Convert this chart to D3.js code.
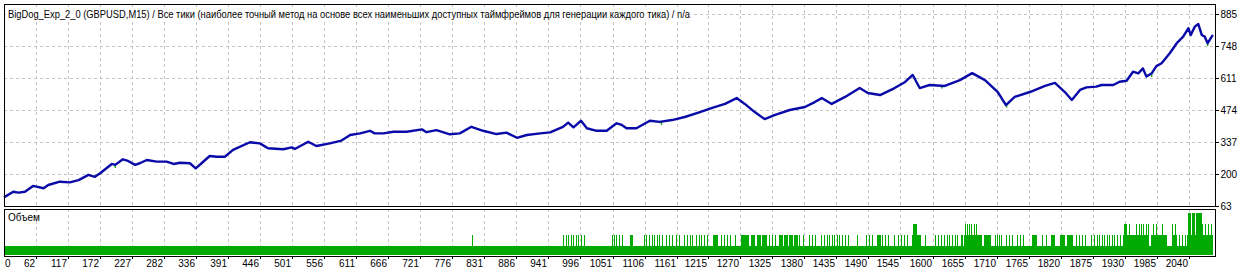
<!DOCTYPE html>
<html><head><meta charset="utf-8">
<script src="https://cdn.jsdelivr.net/npm/d3@7"></script>
<style>
html,body{margin:0;padding:0;background:#fff;}
svg{display:block;}
text{font-family:"Liberation Sans","DejaVu Sans",sans-serif;}
</style></head>
<body><svg id="c" width="1260" height="273"></svg>
<script>
const titleText = "BigDog_Exp_2_0 (GBPUSD,M15) / Все тики (наиболее точный метод на основе всех наименьших доступных таймфреймов для генерации каждого тика) / n/a";
const volumeLabel = "Объем";
const xTickLabels = [0,62,117,172,227,282,336,391,446,501,556,611,666,721,776,831,886,941,996,1051,1106,1161,1215,1270,1325,1380,1435,1490,1545,1600,1655,1710,1765,1820,1875,1930,1985,2040];
const yTickLabels = [63,200,337,474,611,748,885];

const trades = [
  7,23,32,43,57,75,83,103,120,135,
  152,163,172,192,198,211,220,232,240,252,
  269,286,298,309,326,336,346,360,372,386,
  400,429,446,460,486,501,506,529,543,566,
  586,601,618,635,643,658,675,698,724,732,
  749,772,789,809,829,852,869,887,904,927,
  944,966,975,984,997,1007,1024,1041,1058,1067,
  1075,1092,1115,1132,1153,1175,1201,1222,1244,1264,
  1278,1295,1312,1330,1355,1381,1398,1410,1427,1450,
  1475,1489,1510,1535,1553,1566,1578,1595,1621,1647,
  1668,1690,1712,1726,1741,1767,1793,1810,1827,1839,
  1853,1864,1881,1890,1910,1921,1933,1944,1953,1961,
  1967,1976,1984,1993,2007,2019,2030,2039,2043,2050,
  2056,2062,2067,2072,2079,2081];
const balance = [
  100,124,120,124,149,139,153,167,164,174,
  196,188,203,243,239,263,256,239,246,260,
  253,253,243,248,246,224,246,277,274,274,
  303,336,331,310,306,314,307,338,320,331,
  343,367,374,385,374,374,381,381,391,379,
  388,370,374,402,385,371,377,355,367,374,
  378,402,420,400,428,396,385,385,417,410,
  396,396,428,423,431,444,465,483,500,525,
  500,465,435,453,474,487,508,525,500,530,
  568,547,538,568,594,624,568,581,577,602,
  632,602,551,495,530,551,577,590,551,517,
  560,571,574,581,581,595,599,638,631,652,
  617,631,662,674,717,760,788,824,795,831,
  842,795,788,760,788,795];

// equity dips below balance: [trade, equity]
const equityDipTrades = [198,1135,1616,1727,1976,2039,2072];
const equityDipValues = [226,410,566,484,615,812,748];

const firstTrade = 7, lastTrade = 2081;
const baseVolume = 1;
const vol2Bars = [[811,811],
 [967,967],[972,972],[976,976],[981,981],[984,984],[990,990],[993,993],[998,998],[1003,1003],
 [1051,1051],[1055,1055],[1058,1058],[1063,1063],[1068,1068],[1082,1086],
 [1106,1106],[1110,1110],[1115,1115],[1120,1120],[1123,1123],[1128,1128],[1132,1132],[1137,1137],
 [1144,1144],[1149,1149],[1154,1154],[1161,1161],[1166,1166],
 [1175,1175],[1180,1180],[1185,1185],[1188,1188],
 [1195,1195],[1200,1200],[1204,1204],[1209,1209],[1214,1214],[1224,1231],
 [1238,1238],[1243,1243],[1249,1249],[1254,1254],[1262,1262],
 [1273,1286],[1290,1295],[1300,1305],[1308,1315],
 [1321,1321],[1326,1326],[1331,1331],
 [1338,1343],[1346,1352],[1355,1360],[1363,1369],[1372,1372],[1379,1379],
 [1389,1389],[1394,1394],[1399,1399],[1410,1410],[1415,1415],
 [1420,1420],[1423,1423],[1429,1429],[1432,1432],[1437,1437],[1441,1441],[1446,1446],[1451,1451],[1456,1456],
 [1471,1471],[1487,1487],[1492,1492],[1497,1497],
 [1506,1512],[1514,1514],[1520,1520],[1525,1525],
 [1535,1535],[1542,1542],[1547,1547],[1552,1552],[1557,1557],
 [1566,1581],[1588,1588],
 [1605,1605],[1610,1610],[1616,1616],[1621,1621],[1626,1626],[1629,1629],[1634,1634],[1640,1640],[1643,1643],[1649,1649],[1652,1652],
 [1655,1684],[1689,1700],[1708,1708],[1712,1712],[1715,1715],[1718,1718],
 [1727,1727],[1732,1732],[1737,1737],[1746,1746],[1751,1751],[1756,1756],
 [1772,1780],[1789,1789],[1796,1796],[1804,1809],[1820,1828],[1831,1840],
 [1847,1847],[1852,1852],[1858,1858],[1863,1863],[1873,1873],
 [1878,1878],[1883,1883],[1887,1887],[1892,1892],[1895,1895],[1900,1900],[1904,1904],[1909,1909],[1912,1912],[1917,1917],[1922,1922],
 [1928,1970],[1976,2002],[2012,2019],[2024,2024],[2029,2029],[2034,2034],[2038,2081]];
const vol3Bars = [[1568,1573],
 [1657,1657],[1660,1660],[1664,1664],[1667,1667],[1672,1672],[1676,1676],
 [1929,1933],[1938,1938],[1950,1950],[1955,1955],[1959,1959],[1962,1962],[1967,1967],[1970,1970],
 [1979,1979],[1984,1984],[1995,1995],[2012,2012],[2017,2017],
 [2063,2063],[2069,2069],[2074,2074],[2079,2079]];
const vol4Bars = [[2039,2043],[2046,2050],[2053,2062]];

// ---- layout ----
const L = 4, R = 1215, T = 4, B = 206;
const VT = 209, VB = 256;
const svg = d3.select("#c");
const x = d3.scaleLinear().domain([62, 2040]).range([36, 1189]);
const y = d3.scaleLinear().domain([63, 885]).range([206, 14]);
const yv = d3.scaleLinear().domain([0, 4]).range([257, 213]);
const gridColor = "#c4c4c4";

// grid main
const gx = xTickLabels.filter(v => x(v) > L + 2);
svg.append("g").selectAll("line").data(gx).join("line")
  .attr("x1", d => Math.round(x(d)) + 0.5).attr("x2", d => Math.round(x(d)) + 0.5)
  .attr("y1", T).attr("y2", B).attr("stroke", gridColor).attr("stroke-dasharray", "3,3");
svg.append("g").selectAll("line").data(yTickLabels.filter(v => y(v) < B - 2)).join("line")
  .attr("x1", L).attr("x2", R).attr("y1", d => Math.round(y(d)) + 0.5).attr("y2", d => Math.round(y(d)) + 0.5)
  .attr("stroke", gridColor).attr("stroke-dasharray", "3,3");
// grid volume
svg.append("g").selectAll("line").data(gx).join("line")
  .attr("x1", d => Math.round(x(d)) + 0.5).attr("x2", d => Math.round(x(d)) + 0.5)
  .attr("y1", VT).attr("y2", VB).attr("stroke", gridColor).attr("stroke-dasharray", "3,3");

// title with white background
svg.append("rect").attr("x", 6).attr("y", 8).attr("width", 686).attr("height", 13).attr("fill", "#fff");
svg.append("text").attr("x", 8).attr("y", 18).attr("font-size", 10.5).attr("fill", "#000")
  .text(titleText).attr("textLength", 682).attr("lengthAdjust", "spacingAndGlyphs");

// equity dips (green)
const interp = d3.scaleLinear().domain(trades).range(balance);
svg.append("g").selectAll("line").data(equityDipTrades).join("line")
  .attr("x1", d => x(d)).attr("x2", d => x(d))
  .attr("y1", d => y(interp(d))).attr("y2", (d, i) => y(equityDipValues[i]))
  .attr("stroke", "#18b018").attr("stroke-width", 1.5);

// balance line
const line = d3.line().x((d, i) => x(trades[i])).y(d => y(d));
svg.append("path").datum(balance).attr("d", line).attr("fill", "none")
  .attr("stroke", "#0a0aa8").attr("stroke-width", 2.4).attr("stroke-linejoin", "round");

// volume bars
const vg = svg.append("g").attr("shape-rendering", "crispEdges");
const vbot = VB - 1;
vg.append("rect").attr("x", x(firstTrade)).attr("width", x(lastTrade) - x(firstTrade))
  .attr("y", yv(baseVolume)).attr("height", vbot - yv(baseVolume)).attr("fill", "#00aa00");
function bars(data, level) {
  vg.append("g").selectAll("rect").data(data).join("rect")
    .attr("x", d => Math.floor(x(d[0])))
    .attr("width", d => Math.max(1, Math.round(x(d[1]) - x(d[0]) + 0.6)))
    .attr("y", yv(level)).attr("height", vbot - yv(level)).attr("fill", "#00aa00");
}
bars(vol2Bars, 2); bars(vol3Bars, 3); bars(vol4Bars, 4);

// panel borders
const bg = svg.append("g").attr("shape-rendering", "crispEdges").attr("fill", "none").attr("stroke", "#000");
bg.append("rect").attr("x", L + 0.5).attr("y", T + 0.5).attr("width", R - L).attr("height", B - T);
bg.append("rect").attr("x", L + 0.5).attr("y", VT + 0.5).attr("width", R - L).attr("height", VB - VT);

// right axis
const ya = svg.append("g").attr("transform", `translate(${R + 0.5},0)`)
  .call(d3.axisRight(y).tickValues(yTickLabels).tickSize(3).tickPadding(2).tickFormat(d3.format("d")));
ya.select(".domain").remove();
ya.selectAll("text").attr("font-size", 10).attr("fill", "#000").attr("font-family", "Liberation Sans, DejaVu Sans, sans-serif");
ya.selectAll("line").attr("stroke", "#000").attr("shape-rendering", "crispEdges");

// bottom axis
const xa = svg.append("g").attr("font-size", 10);
xa.selectAll("line").data(gx).join("line")
  .attr("x1", d => Math.round(x(d)) + 0.5).attr("x2", d => Math.round(x(d)) + 0.5)
  .attr("y1", VB).attr("y2", VB + 3).attr("stroke", "#000");
xa.selectAll("text").data(xTickLabels).join("text")
  .attr("x", d => x(d) > L + 2 ? Math.round(x(d)) - 1 : L + 1)
  .attr("text-anchor", d => x(d) > L + 2 ? "end" : "start")
  .attr("y", 267).attr("fill", "#000").text(d => d);

// volume label
svg.append("text").attr("x", 8).attr("y", 221).attr("font-size", 10).attr("fill", "#000").text(volumeLabel);
</script></body></html>
